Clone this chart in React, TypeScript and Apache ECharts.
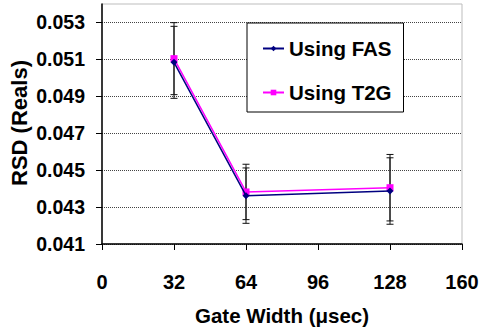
import React, { useEffect, useRef } from "react";
import * as echarts from "echarts";

const gateWidth = [32, 64, 128];
const fasValues = [0.05084, 0.04362, 0.04387];
const t2gValues = [0.05104, 0.04382, 0.04405];
const fasErr = [0.00195, 0.0015, 0.0018];
const t2gErr = [0.00195, 0.0015, 0.0018];
const yTicks = [0.041, 0.043, 0.045, 0.047, 0.049, 0.051, 0.053];
const xTicks = [0, 32, 64, 96, 128, 160];

const FONT = "Liberation Sans, Arial, sans-serif";

function errorSeries(name: string, values: number[], errs: number[]) {
  const data = gateWidth.map((x, i) => [x, values[i] - errs[i], values[i] + errs[i]]);
  return {
    type: "custom",
    name,
    data,
    z: 1,
    silent: true,
    renderItem: (params: any, api: any) => {
      const x = api.value(0);
      const lo = api.coord([x, api.value(1)]);
      const hi = api.coord([x, api.value(2)]);
      const hw = 3.5;
      const style = { stroke: "#111", lineWidth: 1 };
      return {
        type: "group",
        children: [
          { type: "line", shape: { x1: lo[0], y1: lo[1], x2: hi[0], y2: hi[1] }, style },
          { type: "line", shape: { x1: lo[0] - hw, y1: lo[1], x2: lo[0] + hw, y2: lo[1] }, style },
          { type: "line", shape: { x1: hi[0] - hw, y1: hi[1], x2: hi[0] + hw, y2: hi[1] }, style },
        ],
      };
    },
  };
}

export default function App() {
  const ref = useRef<HTMLDivElement>(null);
  useEffect(() => {
    if (!ref.current) return;
    const chart = echarts.init(ref.current, undefined, { renderer: "svg" });
    chart.setOption({
      animation: false,
      backgroundColor: "#fff",
      grid: {
        left: 102,
        right: 20,
        top: 4,
        bottom: 89,
        show: true,
        borderColor: "#bdbdbd",
        borderWidth: 1,
        backgroundColor: "transparent",
      },
      legend: {
        orient: "vertical",
        left: 247,
        top: 23,
        backgroundColor: "#fff",
        borderColor: "#000",
        borderWidth: 1,
        padding: [15, 12, 9, 15],
        itemWidth: 21,
        itemHeight: 7,
        itemGap: 23,
        textStyle: { fontFamily: FONT, fontWeight: "bold", fontSize: 20.5, color: "#000" },
        data: ["Using FAS", "Using T2G"],
      },
      xAxis: {
        type: "value",
        min: 0,
        max: 160,
        interval: 32,
        name: "Gate Width (\u03bcsec)",
        nameLocation: "middle",
        nameGap: 61,
        nameTextStyle: { fontFamily: FONT, fontWeight: "bold", fontSize: 20.5, color: "#000" },
        axisLine: { show: true, lineStyle: { color: "#000", width: 1.5 } },
        axisTick: { show: true, inside: false, length: 6, customValues: xTicks, lineStyle: { color: "#000" } },
        axisLabel: {
          margin: 28,
          customValues: xTicks,
          fontFamily: FONT,
          fontWeight: "bold",
          fontSize: 20,
          color: "#000",
        },
        splitLine: { show: false },
      },
      yAxis: {
        type: "value",
        min: 0.041,
        max: 0.054,
        axisLine: { show: true, lineStyle: { color: "#000", width: 1.5 } },
        axisTick: { show: true, inside: false, length: 6, customValues: yTicks, lineStyle: { color: "#000" } },
        axisLabel: {
          margin: 17,
          customValues: yTicks,
          formatter: (v: number) => v.toFixed(3),
          fontFamily: FONT,
          fontWeight: "bold",
          fontSize: 19.5,
          color: "#000",
        },
        splitLine: { show: true, lineStyle: { color: "#444", type: [1, 1], width: 1 } },
      },
      graphic: [
        {
          type: "text",
          x: 19.5,
          y: 123,
          rotation: Math.PI / 2,
          style: {
            text: "RSD (Reals)",
            font: `bold 22px ${FONT}`,
            fill: "#000",
            textAlign: "center",
            textVerticalAlign: "middle",
          },
        },
      ],
      series: [
        errorSeries("errFAS", fasValues, fasErr),
        errorSeries("errT2G", t2gValues, t2gErr),
        {
          type: "line",
          name: "Using T2G",
          data: gateWidth.map((x, i) => [x, t2gValues[i]]),
          symbol: "rect",
          symbolSize: 7,
          itemStyle: { color: "#ff00ff" },
          lineStyle: { color: "#ff00ff", width: 1.5 },
          z: 3,
        },
        {
          type: "line",
          name: "Using FAS",
          data: gateWidth.map((x, i) => [x, fasValues[i]]),
          symbol: "diamond",
          symbolSize: 7,
          itemStyle: { color: "#000080" },
          lineStyle: { color: "#000080", width: 1.5 },
          z: 4,
        },
      ],
    });
    return () => chart.dispose();
  }, []);
  return (
    <div
      ref={ref}
      style={{ position: "fixed", left: 0, top: 0, width: 482, height: 333 }}
    />
  );
}
